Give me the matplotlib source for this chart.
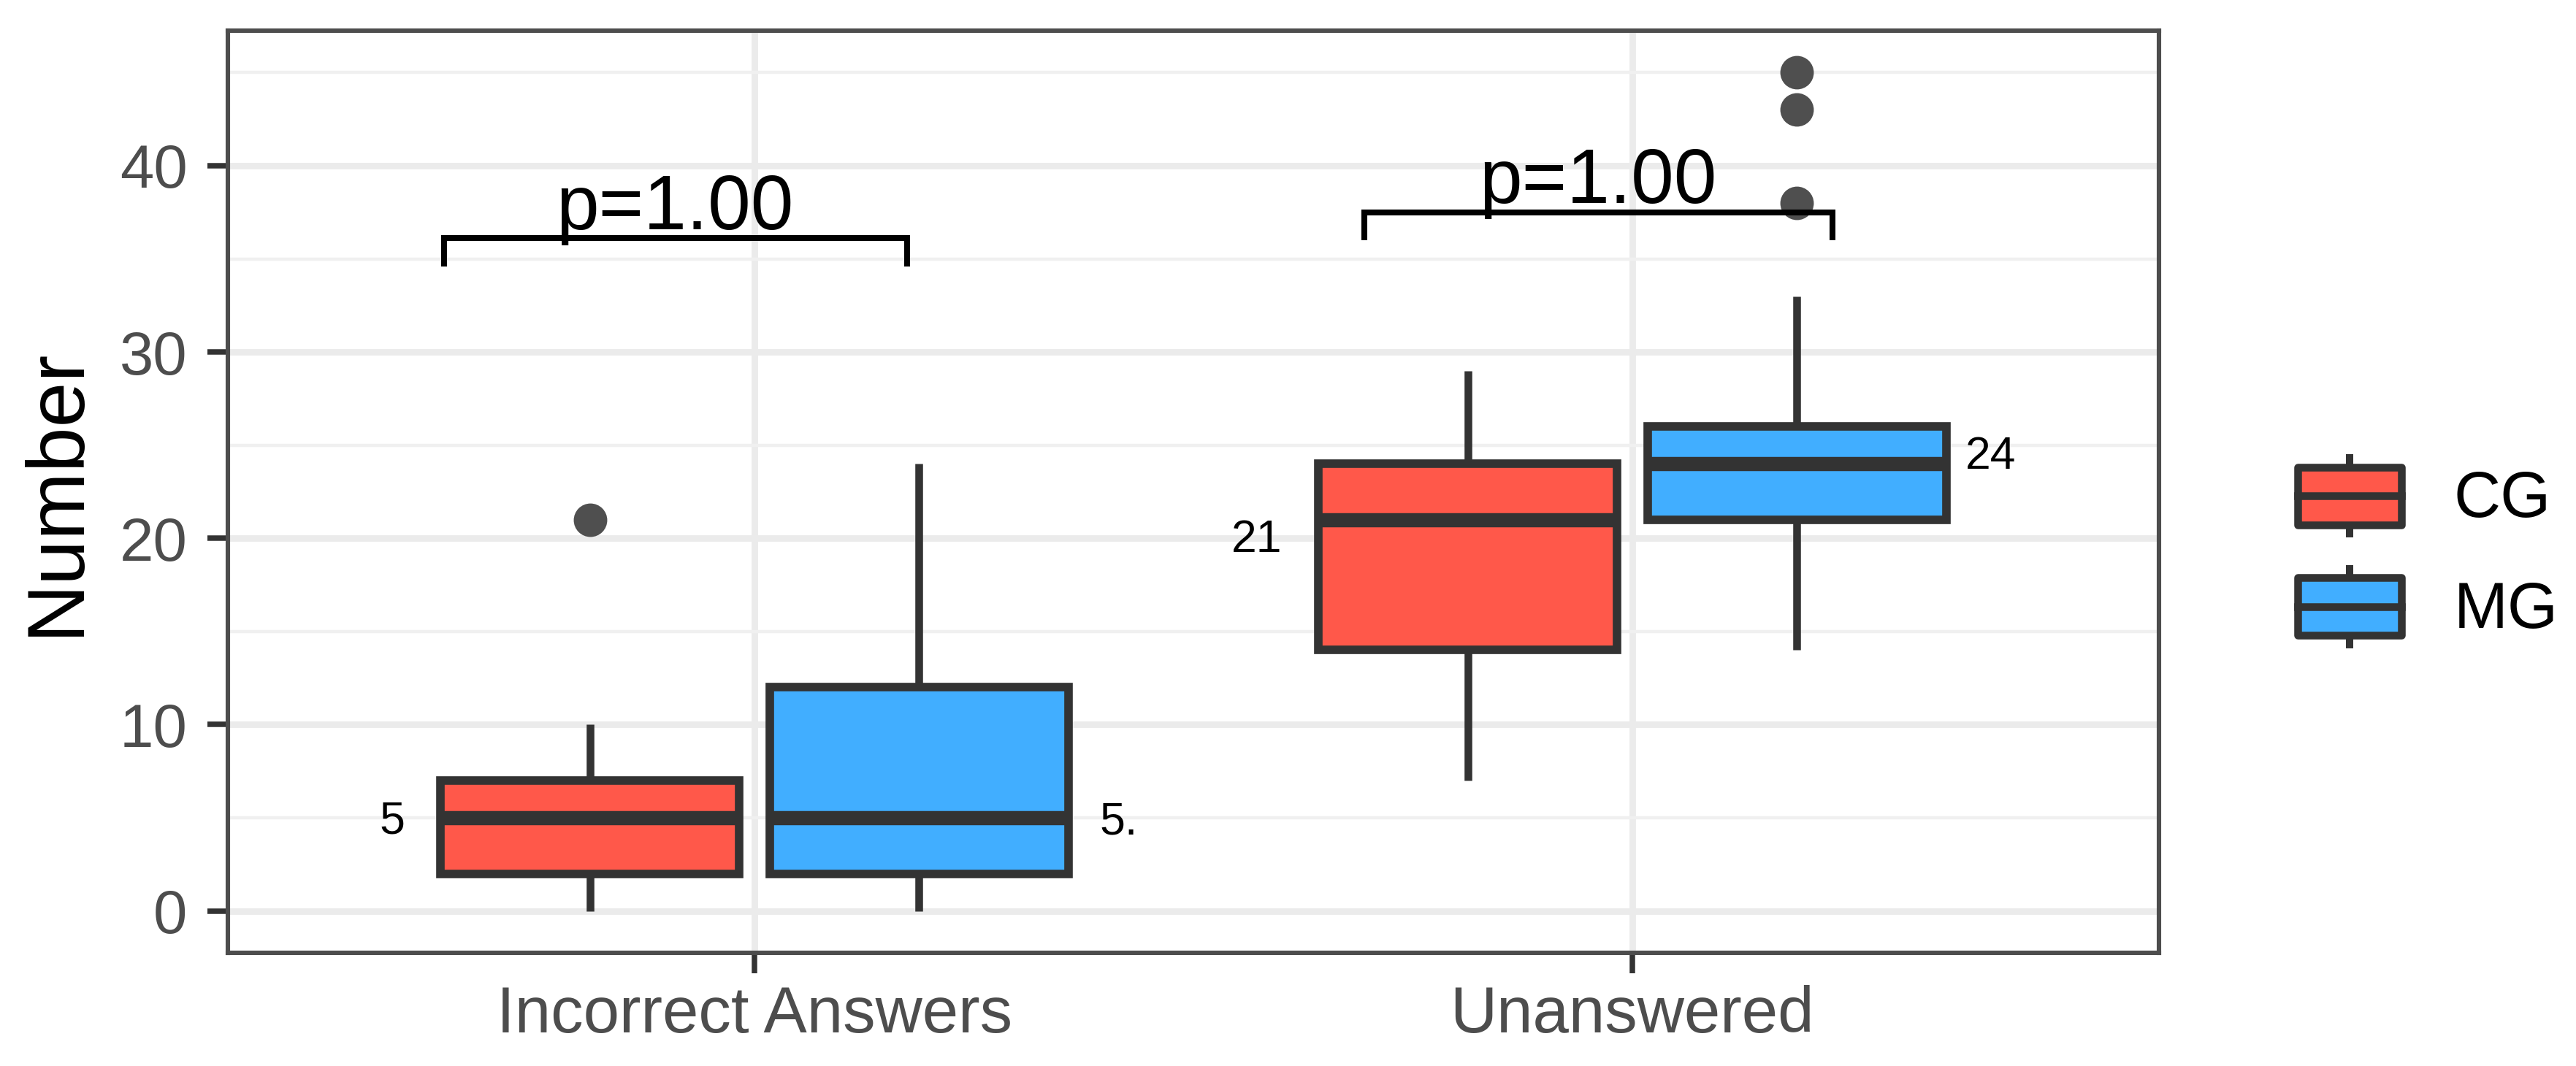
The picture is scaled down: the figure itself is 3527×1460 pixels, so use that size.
import matplotlib
matplotlib.use("Agg")
import matplotlib.pyplot as plt
from matplotlib.legend_handler import HandlerBase
from matplotlib.patches import Rectangle, Patch
from matplotlib.lines import Line2D

plt.rcParams['font.family'] = ['Liberation Sans', 'DejaVu Sans']

# ---------------- data ----------------
categories = ["Incorrect Answers", "Unanswered"]
groups = ["CG", "MG"]
colors = {"CG": "#FF584A", "MG": "#41AEFF"}

cg_whislo = [0, 7]
cg_q1 = [2, 14]
cg_med = [5, 21]
cg_q3 = [7, 24]
cg_whishi = [10, 29]
cg_fliers = [[21], []]

mg_whislo = [0, 14]
mg_q1 = [2, 21]
mg_med = [5, 24]
mg_q3 = [12, 26]
mg_whishi = [24, 33]
mg_fliers = [[], [45, 43, 38]]

# median annotations
median_labels = ["5", "5.", "21", "24"]
median_label_x = [-0.413, 0.415, 0.572, 1.408]
median_label_y = [4.15, 4.1, 19.25, 23.75]

p_labels = ["p=1.00", "p=1.00"]
bracket_x0 = [-0.354, 0.695]
bracket_x1 = [0.174, 1.228]
bracket_y = [36.1, 37.5]
bracket_tick = 1.5
p_label_x = [-0.091, 0.961]
p_label_y = [36.6, 38.0]

# ---------------- figure ----------------
W, H, DPI = 3527, 1460, 200
fig = plt.figure(figsize=(W / DPI, H / DPI), dpi=DPI)
ax = fig.add_axes([312 / W, 1 - 1305 / H, (2956 - 312) / W, (1305 - 42) / H])

ax.set_xlim(-0.6, 1.6)
ax.set_ylim(-2.25, 47.25)

# grid
ax.set_yticks([0, 10, 20, 30, 40])
ax.set_yticks([5, 15, 25, 35, 45], minor=True)
ax.set_xticks(range(len(categories)))
ax.set_xticklabels(categories)
ax.grid(which='major', color='#EBEBEB', linewidth=3.2, zorder=0)
ax.grid(which='minor', axis='y', color='#F0F0F0', linewidth=1.6, zorder=0)
ax.set_axisbelow(True)

offset = 0.1875
bw = 0.34
edge = '#333333'

def make_stats(wl, q1, med, q3, wh, fl):
    return [dict(whislo=wl[i], q1=q1[i], med=med[i], q3=q3[i], whishi=wh[i],
                 fliers=fl[i]) for i in range(len(wl))]

series = {
    "CG": make_stats(cg_whislo, cg_q1, cg_med, cg_q3, cg_whishi, cg_fliers),
    "MG": make_stats(mg_whislo, mg_q1, mg_med, mg_q3, mg_whishi, mg_fliers),
}

for gi, g in enumerate(groups):
    pos = [i + (-offset if gi == 0 else offset) for i in range(len(categories))]
    ax.bxp(series[g], positions=pos, widths=bw, patch_artist=True,
           showcaps=False, manage_ticks=False,
           boxprops=dict(facecolor=colors[g], edgecolor=edge, linewidth=4.2),
           medianprops=dict(color=edge, linewidth=7.0, solid_capstyle='butt'),
           whiskerprops=dict(color=edge, linewidth=3.8, solid_capstyle='butt'),
           flierprops=dict(marker='o', markerfacecolor='#4F4F4F',
                           markeredgecolor='#4F4F4F', markersize=15.5),
           zorder=3)

# brackets and p-values
for x0, x1, y, lab, tx, ty in zip(bracket_x0, bracket_x1, bracket_y,
                                  p_labels, p_label_x, p_label_y):
    ax.plot([x0, x0, x1, x1], [y - bracket_tick, y, y, y - bracket_tick],
            color='black', linewidth=2.9, zorder=4, solid_joinstyle='miter',
            solid_capstyle='butt')
    ax.text(tx, ty, lab, ha='center', va='baseline', fontsize=38,
            color='black', zorder=5)

for lab, x, y in zip(median_labels, median_label_x, median_label_y):
    ax.text(x, y, lab, ha='center', va='baseline', fontsize=22.5,
            color='black', zorder=5)

# axes styling
for s in ax.spines.values():
    s.set_color('#4D4D4D')
    s.set_linewidth(2.2)
ax.tick_params(axis='both', which='major', length=10, width=2.7,
               color='#333333', labelcolor='#4D4D4D')
ax.tick_params(axis='y', which='minor', length=0)
ax.tick_params(axis='y', labelsize=30, pad=10)
ax.tick_params(axis='x', labelsize=32, pad=6)
ax.set_ylabel("Number", fontsize=40, color='black')
ax.yaxis.set_label_coords(-0.069, 0.5)

# legend with box-glyph keys
class BoxHandler(HandlerBase):
    def create_artists(self, legend, orig_handle, xdescent, ydescent,
                       width, height, fontsize, trans):
        x0, y0 = -xdescent, -ydescent
        bh = height * 0.69
        by = y0 + (height - bh) / 2
        cx = x0 + width / 2
        wl = Line2D([cx, cx], [y0, y0 + height], color=edge, linewidth=3.6,
                    solid_capstyle='butt', transform=trans)
        rect = Rectangle((x0, by), width, bh, facecolor=orig_handle.get_facecolor(),
                         edgecolor=edge, linewidth=3.8, transform=trans,
                         joinstyle='round')
        ml = Line2D([x0, x0 + width], [y0 + height / 2, y0 + height / 2],
                    color=edge, linewidth=3.8, transform=trans)
        return [wl, rect, ml]

handles = [Patch(facecolor=colors[g], edgecolor=edge) for g in groups]
leg = fig.legend(handles, groups, loc='center left',
                 bbox_to_anchor=(3146 / W, 1 - 755 / H),
                 bbox_transform=fig.transFigure, frameon=False,
                 fontsize=32, handlelength=1.6, handleheight=1.6,
                 handletextpad=0.8, labelspacing=0.42, borderpad=0,
                 borderaxespad=0,
                 handler_map={Patch: BoxHandler()})

fig.savefig("out.png", dpi=DPI, facecolor='white')
